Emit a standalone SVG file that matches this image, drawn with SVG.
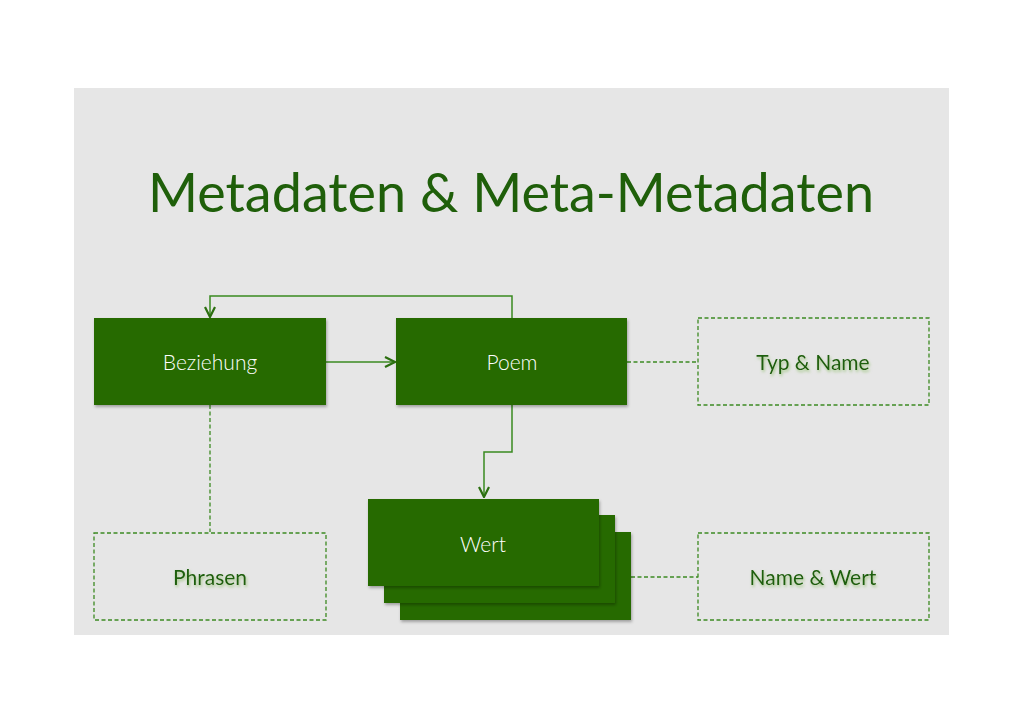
<svg xmlns="http://www.w3.org/2000/svg" width="1024" height="724" viewBox="0 0 1024 724">
<defs>
<filter id="sh" x="-10%" y="-10%" width="125%" height="130%">
<feDropShadow dx="1" dy="2" stdDeviation="1.5" flood-color="#000" flood-opacity="0.3"/>
</filter>
<filter id="glow" x="-10%" y="-30%" width="120%" height="160%">
<feDropShadow dx="1" dy="2" stdDeviation="1.5" flood-color="#8fbf6a" flood-opacity="0.8"/>
</filter>
<marker id="arr" viewBox="0 0 12 12" refX="11" refY="6" markerWidth="12" markerHeight="12" markerUnits="userSpaceOnUse" orient="auto">
<path d="M1,1 L11,6 L1,11" fill="none" stroke="#2c6f10" stroke-width="2.2"/>
</marker>
</defs>
<style>
.solid{fill:#266a00;filter:url(#sh)}
.dash{fill:none;stroke:#3d8a23;stroke-width:1.3;stroke-dasharray:4 2.5}
.wt{font-family:Lato,"Open Sans",sans-serif;font-weight:300;font-size:21px;fill:#ffffff;text-anchor:middle}
.gt{font-family:Lato,"Open Sans",sans-serif;font-weight:400;font-size:21px;fill:#1c5e08;text-anchor:middle;filter:url(#glow)}
.ln{fill:none;stroke:#3a8a20;stroke-width:1.5}
.dl{fill:none;stroke:#3d8a23;stroke-width:1.3;stroke-dasharray:4 2.5}
</style>
<rect x="74" y="88" width="875" height="547" fill="#e6e6e6"/>
<text x="511" y="212" font-family="Lato,'Open Sans',sans-serif" font-weight="400" font-size="55" fill="#1f5f0a" text-anchor="middle" textLength="726" lengthAdjust="spacingAndGlyphs">Metadaten &amp; Meta-Metadaten</text>
<g id="connectors">
<path class="ln" d="M512,318 V296 H210 V317" marker-end="url(#arr)"/>
<path class="ln" d="M326,362 H395" marker-end="url(#arr)"/>
<path class="ln" d="M512,405 V452 H484 V497" marker-end="url(#arr)"/>
<path class="dl" d="M627,362 H698"/>
<path class="dl" d="M631,577 H698"/>
<path class="dl" d="M210,405 V532"/>
</g>
<g id="beziehung">
<rect class="solid" x="94" y="318" width="232" height="87"/>
<text class="wt" x="210" y="370">Beziehung</text>
</g>
<g id="poem">
<rect class="solid" x="396" y="318" width="231" height="87"/>
<text class="wt" x="512" y="370">Poem</text>
</g>
<g id="wert">
<rect class="solid" x="400" y="532" width="231" height="88"/>
<rect class="solid" x="384" y="515" width="231" height="88"/>
<rect class="solid" x="368" y="499" width="231" height="87"/>
<text class="wt" x="483" y="552">Wert</text>
</g>
<g id="typname">
<rect class="dash" x="698" y="318" width="231" height="87"/>
<text class="gt" x="813" y="370">Typ &amp; Name</text>
</g>
<g id="namewert">
<rect class="dash" x="698" y="533" width="231" height="87"/>
<text class="gt" x="813" y="585">Name &amp; Wert</text>
</g>
<g id="phrasen">
<rect class="dash" x="94" y="533" width="232" height="87"/>
<text class="gt" x="210" y="585">Phrasen</text>
</g>
</svg>
